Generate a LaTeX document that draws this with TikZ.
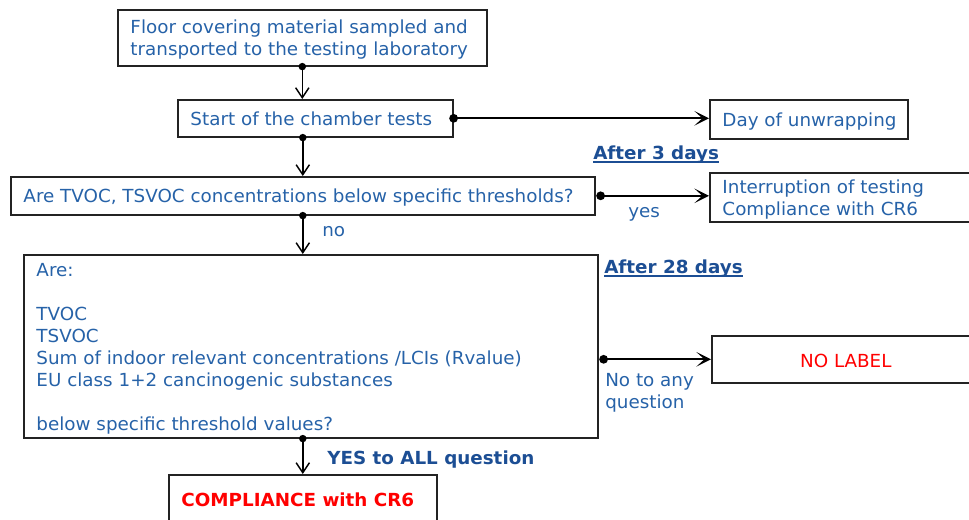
\documentclass[tikz,border=0pt]{standalone}
\usepackage{fontspec}
\setmainfont[FakeStretch=1.018]{DejaVu Sans}
\usetikzlibrary{arrows.meta}
\definecolor{txtblue}{RGB}{38,98,168}
\definecolor{hdblue}{RGB}{28,78,148}
\definecolor{boxline}{RGB}{35,35,35}
\definecolor{lblred}{RGB}{255,0,0}
\newlength\pxu \setlength\pxu{0.75pt}
\newcommand\fr{\rule{0pt}{15.4pt}}
\newcommand\bxt[2]{\makebox[#1\pxu][l]{\hspace*{9.5pt}\begin{tabular}{@{}l@{}}#2\end{tabular}}}
\newcommand\uln[1]{\setbox0=\hbox{#1}\rlap{\rule[-2.9pt]{\wd0}{1.7pt}}\box0}
\tikzset{
  px/.style={x=0.75pt,y=-0.75pt},
  box/.style={draw=boxline,line width=1.2pt,anchor=north west,inner sep=0pt,
    text=txtblue,font=\fontsize{13.5pt}{16.5pt}\selectfont},
  lbl/.style={text=txtblue,font=\fontsize{13.5pt}{16.5pt}\selectfont,inner sep=0pt,anchor=base west},
  hd/.style={text=hdblue,font=\fontsize{13.5pt}{16.5pt}\selectfont\bfseries,inner sep=0pt,anchor=base west},
  link/.style={draw=black,line width=1.1pt,{Circle[length=5.5pt,width=5.5pt]}-{Straight Barb[length=7.5pt,width=10pt]},shorten <=-2.75pt},
  linkr/.style={draw=black,line width=1.3pt,{Circle[length=6.5pt,width=6.5pt]}-{Stealth[length=11pt,width=11pt,inset=6pt]},shorten <=-3.25pt}
}
\begin{document}
\begin{tikzpicture}[px]
\useasboundingbox (0,0) rectangle (969,520);
\clip (0,0) rectangle (969,520);
\node[box,minimum height=56*0.75pt] (b1) at (117,9)
  {\bxt{369}{\fr Floor covering material sampled and\\transported to the testing laboratory}};
\node[box,minimum height=37*0.75pt] (b2) at (177,99)
  {\bxt{275}{\fr Start of the chamber tests}};
\node[box,minimum height=39*0.75pt] (b3) at (709,99)
  {\bxt{198}{\fr Day of unwrapping}};
\node[box,minimum height=38*0.75pt] (b4) at (10,176)
  {\bxt{584}{\fr Are TVOC, TSVOC concentrations below specific thresholds?}};
\node[box,minimum height=47*0.75pt] (b5) at (709,172)
  {\bxt{280}{\fr Interruption of testing\\Compliance with CR6}};
\node[box,minimum height=183*0.75pt] (b6) at (23,254)
  {\bxt{574}{\fr Are:\\ \\TVOC\\TSVOC\\Sum of indoor relevant concentrations /LCIs (Rvalue)\\EU class 1+2 cancinogenic substances\\ \\below specific threshold values?}};
\node[box,minimum height=47*0.75pt,text=lblred] (b7) at (711,335)
  {\makebox[268\pxu][c]{\rule{0pt}{13pt}NO LABEL}};
\node[box,minimum height=50*0.75pt,text=lblred,font=\fontsize{13.5pt}{16.5pt}\selectfont\bfseries] (b8) at (168,474)
  {\bxt{268}{\fr COMPLIANCE with CR6}};
% connectors
\draw[link] (b1.south) -- (b1.south |- b2.north);
\draw[link] (b4.north |- b2.south) -- (b4.north);
\draw[link] (b4.south) -- (b4.south |- b6.north);
\draw[link] (b8.north |- b6.south) -- (b8.north);
\draw[linkr] (b2.east) -- (b2.east -| b3.west);
\draw[linkr] ([xshift=3.75pt]b4.east) -- (b4.east -| b5.west);
\draw[linkr] ([xshift=3.75pt]b6.east |- b7.west) -- (b7.west);
% labels
\node[hd] (a3) at (593,159.5) {\uln{After 3 days}};
\node[lbl] (yes) at (628,217) {yes};
\node[lbl] (no) at (322,236.5) {no};
\node[hd] (a28) at (604,273.5) {\uln{After 28 days}};
\node[lbl] (nq) at (605,386) {\begin{tabular}[t]{@{}l@{}}No to any\\question\end{tabular}};
\node[hd] (ya) at (327,464) {YES to ALL question};
\end{tikzpicture}
\end{document}
